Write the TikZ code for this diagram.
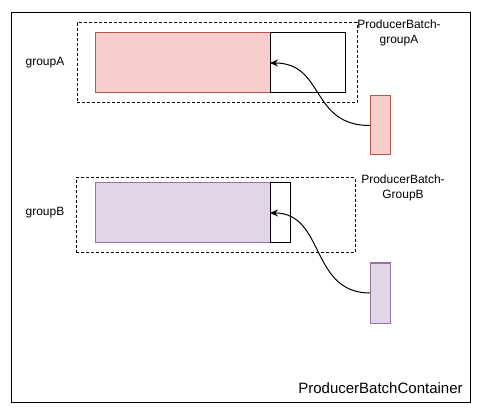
\documentclass[tikz,border=0pt]{standalone}
\usepackage{fontspec}
\setmainfont{Liberation Sans}
\usepackage{tikz}
\usetikzlibrary{arrows.meta,positioning}

\definecolor{pinkfill}{HTML}{F8CECC}
\definecolor{pinkline}{HTML}{B85450}
\definecolor{lilacfill}{HTML}{E1D5E7}
\definecolor{lilacline}{HTML}{9673A6}

\begin{document}
\begin{tikzpicture}[x=1pt,y=-1pt,line width=1pt,
  every node/.style={font=\fontsize{12}{14.5}\selectfont,inner sep=0pt,outer sep=0pt},
  box/.style={draw,rectangle},
  groupbox/.style={draw,rectangle,dashed,dash pattern=on 3pt off 2pt},
  flow/.style={-{Stealth[length=8pt,width=7pt]},line width=1pt}]
\useasboundingbox (0,0) rectangle (481,411);

%Container
\node[box,minimum width=459pt,minimum height=389pt] (container) at (240.5,207.5) {};
\node[font=\fontsize{15}{17}\selectfont] (containerlabel) at (380.5,388) {ProducerBatchContainer};

% Group A
\node[groupbox,minimum width=280pt,minimum height=80pt] (dashA) at (217,63) {};
\node[box,fill=pinkfill,draw=pinkline,minimum width=175pt,minimum height=60pt] (barA) at (182.5,63) {};
\node[box,minimum width=75pt,minimum height=60pt] (slotA) at (307.5,63) {};
\node[box,fill=pinkfill,draw=pinkline,minimum width=20pt,minimum height=59pt] (srcA) at (380,125.5) {};
\node (labelA) at (45,63) {groupA};
\node[align=center] (nameA) at (399,33) {ProducerBatch-\\groupA};

% Group B
\node[groupbox,minimum width=279pt,minimum height=75pt] (dashB) at (215.5,215.5) {};
\node[box,fill=lilacfill,draw=lilacline,minimum width=175pt,minimum height=60pt] (barB) at (182.5,213) {};
\node[box,minimum width=20pt,minimum height=60pt] (slotB) at (280,213) {};
\node[box,fill=lilacfill,draw=lilacline,minimum width=20pt,minimum height=60pt] (srcB) at (380,293) {};
\node (labelB) at (45,213) {groupB};
\node[align=center] (nameB) at (403,188) {ProducerBatch-\\GroupB};

% Connections
\draw[flow] (srcA.west) .. controls +(-60,0) and +(55,0) .. (barA.east);
\draw[flow] (srcB.west) .. controls +(-60,0) and +(55,0) .. (barB.east);

\end{tikzpicture}
\end{document}
